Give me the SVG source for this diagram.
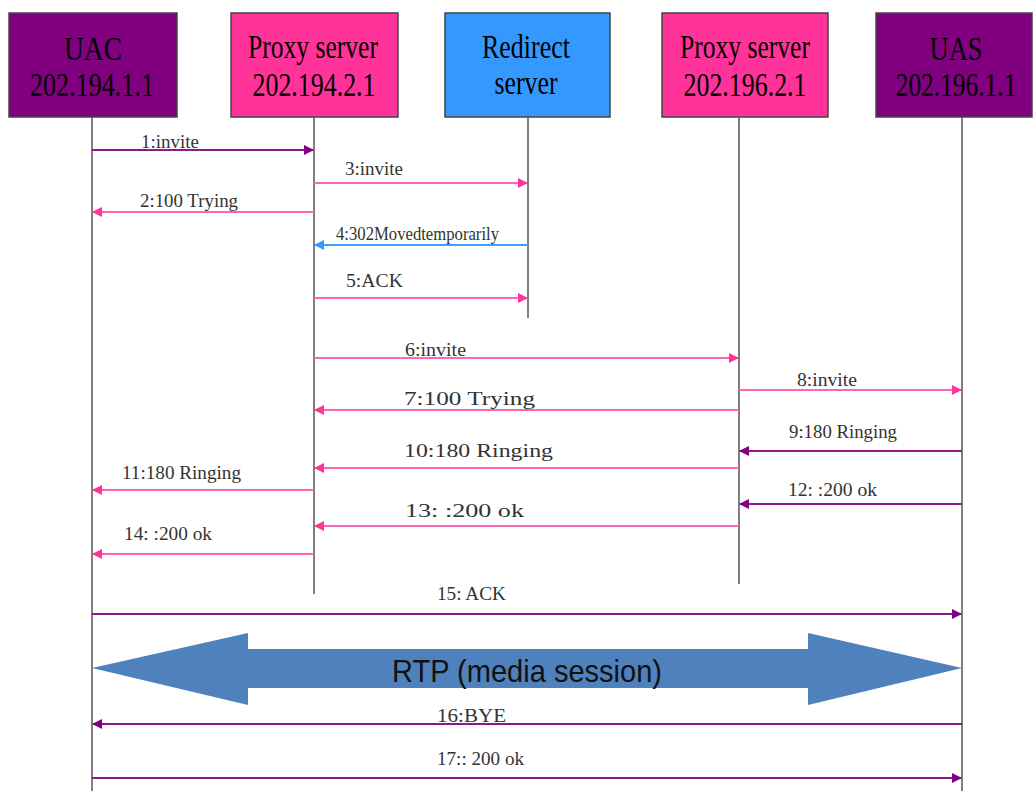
<svg xmlns="http://www.w3.org/2000/svg" width="1034" height="791" viewBox="0 0 1034 791">
<style>
.box{stroke:#444;stroke-width:1.5}
.bt{font-family:"Liberation Serif","Times New Roman",serif;font-size:33px;fill:#000;text-anchor:middle}
.life{stroke:#555;stroke-width:1.5;fill:none}
.lbl{font-family:"Liberation Serif","Times New Roman",serif;font-size:19px;fill:#333}
.pk{stroke:#ff66b2;stroke-width:2.2;fill:none}
.pu{stroke:#8a1a8a;stroke-width:2;fill:none}
.bl{stroke:#3f9fff;stroke-width:2;fill:none}
</style>
<defs>
<marker id="mpk" markerWidth="10" markerHeight="10" refX="9" refY="5" orient="auto" markerUnits="userSpaceOnUse"><path d="M0,0 L10,5 L0,10 Z" fill="#ff3399"/></marker>
<marker id="mpu" markerWidth="10" markerHeight="10" refX="9" refY="5" orient="auto" markerUnits="userSpaceOnUse"><path d="M0,0 L10,5 L0,10 Z" fill="#800080"/></marker>
<marker id="mbl" markerWidth="10" markerHeight="10" refX="9" refY="5" orient="auto" markerUnits="userSpaceOnUse"><path d="M0,0 L10,5 L0,10 Z" fill="#3399ff"/></marker>
</defs>
<rect width="1034" height="791" fill="#fff"/>
<g id="uac">
<rect class="box" x="9" y="13" width="168" height="104" fill="#800080"/>
<text class="bt" x="93" y="60" textLength="58" lengthAdjust="spacingAndGlyphs">UAC</text>
<text class="bt" x="92" y="96" textLength="124" lengthAdjust="spacingAndGlyphs">202.194.1.1</text>
</g>
<g id="proxy1">
<rect class="box" x="231" y="13" width="167" height="104" fill="#ff3399"/>
<text class="bt" x="313" y="58" textLength="130" lengthAdjust="spacingAndGlyphs">Proxy server</text>
<text class="bt" x="314" y="96" textLength="123" lengthAdjust="spacingAndGlyphs">202.194.2.1</text>
</g>
<g id="redirect">
<rect class="box" x="445" y="13" width="165" height="104" fill="#3399ff"/>
<text class="bt" x="526" y="58" textLength="88" lengthAdjust="spacingAndGlyphs">Redirect</text>
<text class="bt" x="526" y="94" textLength="63" lengthAdjust="spacingAndGlyphs">server</text>
</g>
<g id="proxy2">
<rect class="box" x="662" y="13" width="166" height="104" fill="#ff3399"/>
<text class="bt" x="745" y="58" textLength="130" lengthAdjust="spacingAndGlyphs">Proxy server</text>
<text class="bt" x="745" y="96" textLength="123" lengthAdjust="spacingAndGlyphs">202.196.2.1</text>
</g>
<g id="uas">
<rect class="box" x="876" y="13" width="156" height="104" fill="#800080"/>
<text class="bt" transform="translate(956,60) scale(0.8,1)">UAS</text>
<text class="bt" transform="translate(956,96) scale(0.77,1)">202.196.1.1</text>
</g>
<g id="lifelines">
<line class="life" x1="92" y1="117" x2="92" y2="791"/>
<line class="life" x1="314" y1="117" x2="314" y2="594"/>
<line class="life" x1="528" y1="117" x2="528" y2="318"/>
<line class="life" x1="739" y1="117" x2="739" y2="584"/>
<line class="life" x1="962" y1="117" x2="962" y2="791"/>
</g>
<g id="rtp">
<path d="M92,668 L248,633 L248,649 L808,649 L808,633 L962,668 L808,705 L808,688 L248,688 L248,705 Z" fill="#4f81bd"/>
<text x="527" y="682" font-family="'Liberation Sans',Arial,sans-serif" font-size="32" fill="#111" text-anchor="middle" textLength="270" lengthAdjust="spacingAndGlyphs">RTP (media session)</text>
</g>
<g id="connectors">
<line class="pu" x1="92" y1="150" x2="313" y2="150" marker-end="url(#mpu)"/>
<line class="pk" x1="314" y1="183" x2="527" y2="183" marker-end="url(#mpk)"/>
<line class="pk" x1="314" y1="212" x2="93" y2="212" marker-end="url(#mpk)"/>
<line class="bl" x1="528" y1="245" x2="315" y2="245" marker-end="url(#mbl)"/>
<line class="pk" x1="314" y1="298" x2="527" y2="298" marker-end="url(#mpk)"/>
<line class="pk" x1="314" y1="358" x2="738" y2="358" marker-end="url(#mpk)"/>
<line class="pk" x1="739" y1="390" x2="961" y2="390" marker-end="url(#mpk)"/>
<line class="pk" x1="739" y1="410" x2="315" y2="410" marker-end="url(#mpk)"/>
<line class="pu" x1="962" y1="451" x2="740" y2="451" marker-end="url(#mpu)"/>
<line class="pk" x1="739" y1="468" x2="315" y2="468" marker-end="url(#mpk)"/>
<line class="pk" x1="314" y1="490" x2="93" y2="490" marker-end="url(#mpk)"/>
<line class="pu" x1="962" y1="504" x2="740" y2="504" marker-end="url(#mpu)"/>
<line class="pk" x1="739" y1="526" x2="315" y2="526" marker-end="url(#mpk)"/>
<line class="pk" x1="314" y1="554" x2="93" y2="554" marker-end="url(#mpk)"/>
<line class="pu" x1="92" y1="614" x2="961" y2="614" marker-end="url(#mpu)"/>
<line class="pu" x1="962" y1="724" x2="93" y2="724" marker-end="url(#mpu)"/>
<line class="pu" x1="92" y1="778" x2="961" y2="778" marker-end="url(#mpu)"/>
</g>
<g id="labels">
<text class="lbl" x="141" y="148" textLength="58" lengthAdjust="spacingAndGlyphs">1:invite</text>
<text class="lbl" x="345" y="175" textLength="58" lengthAdjust="spacingAndGlyphs">3:invite</text>
<text class="lbl" x="140" y="207" textLength="98" lengthAdjust="spacingAndGlyphs">2:100 Trying</text>
<text class="lbl" x="336" y="240" font-size="15" textLength="163" lengthAdjust="spacingAndGlyphs">4:302Movedtemporarily</text>
<text class="lbl" x="346" y="287" textLength="57" lengthAdjust="spacingAndGlyphs">5:ACK</text>
<text class="lbl" x="405" y="356" textLength="61" lengthAdjust="spacingAndGlyphs">6:invite</text>
<text class="lbl" x="797" y="386" textLength="60" lengthAdjust="spacingAndGlyphs">8:invite</text>
<text class="lbl" x="404" y="405" textLength="131" lengthAdjust="spacingAndGlyphs">7:100 Trying</text>
<text class="lbl" x="789" y="438" textLength="108" lengthAdjust="spacingAndGlyphs">9:180 Ringing</text>
<text class="lbl" x="404" y="457" textLength="149" lengthAdjust="spacingAndGlyphs">10:180 Ringing</text>
<text class="lbl" x="122" y="479" textLength="119" lengthAdjust="spacingAndGlyphs">11:180 Ringing</text>
<text class="lbl" x="788" y="496" textLength="89" lengthAdjust="spacingAndGlyphs">12: :200 ok</text>
<text class="lbl" x="405" y="517" textLength="119" lengthAdjust="spacingAndGlyphs">13: :200 ok</text>
<text class="lbl" x="124" y="540" textLength="88" lengthAdjust="spacingAndGlyphs">14: :200 ok</text>
<text class="lbl" x="437" y="600" textLength="69" lengthAdjust="spacingAndGlyphs">15: ACK</text>
<text class="lbl" x="437" y="722" textLength="69" lengthAdjust="spacingAndGlyphs">16:BYE</text>
<text class="lbl" x="437" y="765" textLength="87" lengthAdjust="spacingAndGlyphs">17:: 200 ok</text>
</g>
</svg>
